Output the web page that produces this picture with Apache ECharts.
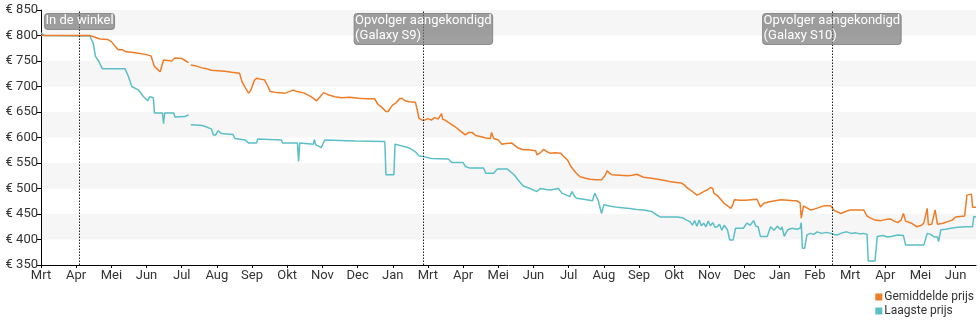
<!DOCTYPE html>
<html>
<head>
<meta charset="utf-8">
<script src="https://cdn.jsdelivr.net/npm/echarts@6/dist/echarts.min.js"></script>
<style>
  html, body { margin: 0; padding: 0; background: #fff; }
  #chart { width: 980px; height: 325px; }
</style>
</head>
<body>
<div id="chart"></div>
<script>
// Day 0 of the price history: 25 March 2017. Every x value is a day offset from it.
const START = Date.UTC(2017, 2, 25);
const monthNames = ['Jan', 'Feb', 'Mrt', 'Apr', 'Mei', 'Jun', 'Jul', 'Aug', 'Sep', 'Okt', 'Nov', 'Dec'];
const seriesNames = ['Gemiddelde prijs', 'Laagste prijs'];

// Average price over all shops [day, €]
const avgPrice = [
  [0,800],[43,800],[44,797],[52,793],[59,792],[62,788],[68,772],[72,772],[75,768],[80,767],[86,765],[92,763],[97,760],
  [100,739],[103,733],[105,729],[108,752],[112,751],[115,750],[118,756],[124,755],[127,751],[130,747],[131,null],
  [132,742],[137,740],[141,737],[146,735],[150,732],[156,731],[162,730],[168,728],[175,726],[177,710],[180,698],
  [183,687],[185,693],[188,712],[190,716],[194,714],[197,713],[200,700],[202,690],[208,688],[215,687],[219,690],
  [222,693],[226,690],[232,687],[238,680],[243,672],[246,680],[249,688],[253,684],[259,680],[265,678],[272,679],
  [280,677],[287,676],[294,676],[297,665],[300,660],[304,651],[306,651],[308,658],[310,664],[313,668],[316,676],
  [318,677],[321,672],[324,670],[330,669],[332,650],[333,638],[336,634],[338,634],[341,637],[344,634],[347,639],
  [350,636],[353,647],[354,636],[356,634],[360,628],[365,621],[370,612],[374,605],[377,610],[380,610],[383,604],
  [387,602],[392,599],[396,598],[397,610],[399,598],[403,595],[406,587],[410,588],[415,589],[420,580],[425,576],
  [430,576],[436,574],[437,566],[440,570],[443,577],[446,572],[449,569],[453,570],[458,569],[461,562],[464,556],
  [467,543],[471,532],[475,523],[480,520],[484,518],[489,517],[494,517],[497,525],[499,535],[501,530],[503,527],
  [510,526],[517,525],[521,526],[525,528],[528,525],[531,522],[538,520],[546,517],[551,515],[555,513],[560,512],
  [564,511],[567,507],[569,502],[573,496],[578,487],[581,490],[584,494],[587,497],[590,502],[592,500],[593,491],
  [597,484],[602,471],[605,466],[608,461],[610,470],[611,478],[616,477],[621,477],[626,478],[631,479],[634,464],
  [637,471],[642,474],[647,476],[652,478],[658,477],[663,476],[666,476],[669,472],[670,442],[672,466],[675,462],
  [678,458],[682,460],[686,463],[690,466],[696,466],[699,457],[702,454],[705,451],[709,455],[713,458],[718,458],
  [725,458],[728,446],[731,442],[735,438],[740,437],[744,439],[749,440],[752,436],[755,433],[758,438],[760,451],
  [762,436],[767,432],[772,425],[776,428],[778,432],[781,461],[782,429],[785,430],[788,458],[790,430],[795,432],
  [799,435],[803,438],[806,444],[810,445],[814,446],[816,487],[820,489],[821,463],[824,463]
];

// Lowest price found [day, €]
const lowPrice = [
  [0,805],[3,800],[43,799],[46,785],[48,759],[51,749],[54,735],[74,735],[77,720],[80,700],[86,693],[90,681],[94,672],
  [96,680],[99,678],[100,648],[107,648],[108,627],[109,648],[117,648],[118,640],[127,641],[130,645],[131,null],
  [132,625],[140,624],[143,623],[150,617],[152,605],[154,605],[156,613],[159,608],[169,606],[171,598],[180,595],
  [183,589],[190,589],[191,597],[212,595],[213,589],[226,589],[227,553],[228,589],[240,587],[241,596],[242,586],
  [247,580],[250,595],[277,593],[303,592],[304,527],[311,527],[312,587],[324,580],[330,572],[333,564],[338,562],
  [344,559],[359,558],[362,551],[372,551],[374,543],[378,540],[390,540],[392,530],[399,530],[402,538],[411,538],
  [417,527],[421,515],[425,505],[431,500],[437,494],[440,500],[445,498],[449,497],[456,500],[459,491],[463,487],
  [466,484],[468,494],[470,485],[472,481],[478,479],[486,476],[488,491],[491,477],[494,451],[496,468],[502,465],
  [508,463],[514,462],[519,461],[525,459],[531,458],[538,455],[542,449],[546,444],[553,444],[561,444],[566,442],
  [569,438],[572,435],[574,428],[576,437],[578,426],[580,438],[582,427],[584,432],[586,425],[588,436],[590,427],
  [592,433],[594,424],[596,425],[598,430],[600,418],[602,428],[605,419],[607,399],[610,399],[612,422],[619,422],
  [622,432],[625,428],[628,437],[630,426],[632,425],[634,406],[640,406],[643,425],[646,418],[649,426],[652,419],
  [653,425],[655,406],[658,419],[662,422],[666,420],[669,422],[670,433],[671,383],[673,383],[675,409],[678,412],
  [681,410],[684,415],[688,412],[692,414],[696,412],[699,410],[702,409],[706,413],[710,415],[714,412],[718,413],
  [722,411],[725,412],[728,410],[729,358],[735,358],[737,406],[742,408],[746,405],[749,406],[755,409],[760,408],
  [762,389],[778,389],[781,412],[784,410],[787,405],[790,405],[791,396],[793,419],[797,420],[802,422],[808,424],
  [815,425],[821,425],[822,445],[824,444]
];

// Events marked with a dotted line and a caption
const eventDays = [34, 337, 697];
const eventLabels = ['In de winkel', 'Opvolger aangekondigd\n(Galaxy S9)', 'Opvolger aangekondigd\n(Galaxy S10)'];

const yMin = 350, yMax = 850, yStep = 50;
const xMax = 824, xStep = 31;

const FONT = 'Roboto';
const TEXT = '#333';

const chart = echarts.init(document.getElementById('chart'), null, { renderer: 'canvas' });

chart.setOption({
  animation: false,
  backgroundColor: '#fff',
  textStyle: { fontFamily: FONT },
  grid: { left: 41, right: 4, top: 10, bottom: 60, containLabel: false },
  legend: {
    orient: 'vertical',
    right: 6,
    top: 290,
    padding: 0,
    align: 'left',
    icon: 'rect',
    itemWidth: 7,
    itemHeight: 7,
    itemGap: 0,
    textStyle: { color: TEXT, fontSize: 12, fontFamily: FONT, lineHeight: 14, padding: [0, 0, 0, -3] },
    data: seriesNames
  },
  xAxis: {
    type: 'value',
    min: 0,
    max: xMax,
    interval: xStep,
    axisLine: { show: true, lineStyle: { color: '#000', width: 1 } },
    axisTick: { show: true, length: 3, lineStyle: { color: '#000' } },
    axisLabel: {
      color: TEXT,
      fontSize: 13,
      margin: 4,
      showMaxLabel: false,
      formatter: v => monthNames[new Date(START + v * 86400000).getUTCMonth()]
    },
    splitLine: { show: false }
  },
  yAxis: {
    type: 'value',
    min: yMin,
    max: yMax,
    interval: yStep,
    axisLine: { show: true, lineStyle: { color: '#000', width: 1 } },
    axisTick: { show: true, length: 4, lineStyle: { color: '#000' } },
    axisLabel: { color: TEXT, fontSize: 13, margin: 3, formatter: v => '€ ' + v },
    splitLine: { show: false },
    splitArea: { show: true, areaStyle: { color: ['rgba(255,255,255,0)', '#f6f6f6'] } }
  },
  series: [
    {
      name: seriesNames[0],
      type: 'line',
      data: avgPrice,
      showSymbol: false,
      symbol: 'none',
      connectNulls: false,
      color: '#ef7d28',
      lineStyle: { width: 1.5, color: '#ef7d28' },
      z: 3,
      markLine: {
        silent: true,
        symbol: ['none', 'none'],
        label: { show: false },
        lineStyle: { color: '#222', width: 1, type: [1.5, 1.5] },
        data: eventDays.map(d => ({ xAxis: d }))
      },
      markPoint: {
        silent: true,
        symbol: 'rect',
        symbolSize: 1,
        itemStyle: { color: 'rgba(0,0,0,0)' },
        label: {
          show: true,
          position: 'bottom',
          distance: 3,
          backgroundColor: 'rgba(115,115,115,0.68)',
          borderColor: 'rgba(90,90,90,0.6)',
          borderWidth: 0.5,
          borderRadius: 3,
          padding: [0, 1, 1, 1],
          formatter: p => p.data.text.split('\n').map(s => '{t|' + s + '}').join('\n'),
          rich: { t: { color: '#fff', fontSize: 13, fontFamily: FONT, lineHeight: 15, align: 'left' } }
        },
        data: eventDays.map((d, i) => ({ coord: [d, yMax], text: eventLabels[i] }))
      }
    },
    {
      name: seriesNames[1],
      type: 'line',
      data: lowPrice,
      showSymbol: false,
      symbol: 'none',
      connectNulls: false,
      color: '#5bbfc7',
      lineStyle: { width: 1.5, color: '#5bbfc7' },
      z: 2
    }
  ]
});
</script>
</body>
</html>
